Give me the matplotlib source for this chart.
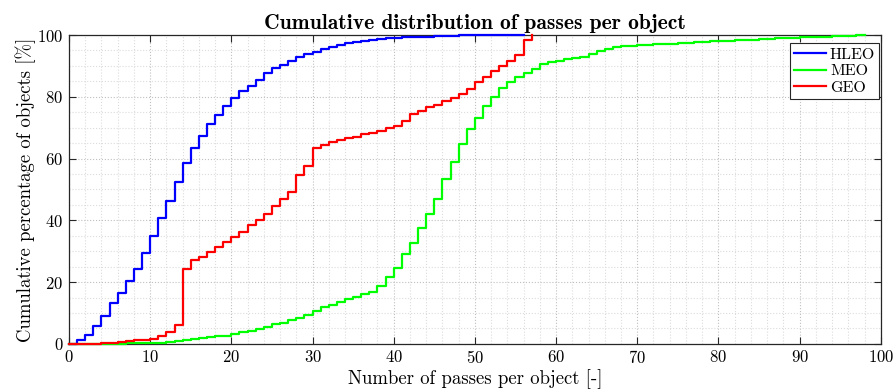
import numpy as np
import matplotlib
matplotlib.use("Agg")
import matplotlib.pyplot as plt
from matplotlib.ticker import MultipleLocator

plt.rcParams['font.family'] = ['cmr10', 'DejaVu Serif']
plt.rcParams['axes.unicode_minus'] = False
plt.rcParams['axes.formatter.use_mathtext'] = True

# Number of passes per object (integer bins) and cumulative percentage
hleo_x = list(range(0, 57))
hleo_y = [0, 1.1, 2.8, 5.7, 9.1, 13.2, 16.6, 20.3, 24.4, 29.3,
          34.8, 40.6, 46.4, 52.5, 58.5, 63.5, 67.4, 71.1, 74.1, 77.0,
          79.7, 81.9, 83.6, 85.4, 87.6, 89.2, 90.4, 91.7, 93.0, 93.9,
          94.5, 95.4, 96.0, 96.7, 97.3, 97.7, 98.1, 98.4, 98.7, 98.9,
          99.1, 99.2, 99.3, 99.4, 99.5, 99.6, 99.7, 99.8, 99.9, 99.9,
          99.9, 99.9, 99.9, 99.9, 99.9, 99.9, 100.0]

meo_x = list(range(0, 99))
meo_y = [0, 0, 0, 0, 0, 0.1, 0.1, 0.2, 0.2, 0.3,
         0.3, 0.4, 0.5, 1.0, 1.3, 1.6, 1.8, 2.1, 2.4, 2.7,
         3.2, 4.0, 4.3, 4.9, 5.6, 6.3, 6.8, 7.8, 8.5, 9.4,
         10.8, 11.8, 12.5, 13.7, 14.5, 15.3, 16.2, 16.9, 18.9, 21.5,
         24.7, 29.2, 32.6, 37.4, 42.1, 47.0, 53.3, 58.8, 64.6, 69.5,
         73.2, 77.0, 80.0, 83.0, 84.9, 86.5, 87.8, 89.0, 90.6, 91.2,
         91.6, 92.1, 92.6, 92.8, 93.7, 94.8, 95.6, 96.0, 96.3, 96.6,
         96.8, 96.9, 97.0, 97.1, 97.2, 97.4, 97.5, 97.6, 97.8, 97.9,
         98.1, 98.2, 98.3, 98.4, 98.5, 98.6, 98.7, 98.9, 99.0, 99.1,
         99.2, 99.3, 99.4, 99.5, 99.6, 99.7, 99.8, 99.9, 100.0]

geo_x = list(range(0, 58))
geo_y = [0, 0, 0, 0.1, 0.2, 0.3, 0.5, 0.8, 1.1, 1.3,
         1.6, 2.4, 3.8, 6.1, 24.2, 27.2, 28.0, 29.6, 31.3, 33.1,
         34.7, 36.3, 38.5, 40.1, 42.0, 44.7, 46.9, 49.3, 54.6, 57.6,
         63.5, 64.4, 65.2, 66.0, 66.5, 66.9, 67.9, 68.4, 69.0, 70.0,
         70.7, 72.3, 74.3, 75.5, 76.8, 77.4, 78.6, 79.5, 80.8, 82.5,
         84.7, 86.5, 88.5, 90.0, 91.7, 93.5, 98.4, 100.0]

fig = plt.figure(figsize=(8.96, 3.89), dpi=100)
ax = fig.add_axes([0.077, 0.116, 0.906, 0.794])

ax.step(hleo_x, hleo_y, where='post', color=(0, 0, 1), lw=1.6, label='HLEO',
        zorder=3, clip_on=False)
ax.step(meo_x, meo_y, where='post', color=(0, 1, 0), lw=1.6, label='MEO',
        zorder=3, clip_on=False)
ax.step(geo_x, geo_y, where='post', color=(1, 0, 0), lw=1.6, label='GEO',
        zorder=3, clip_on=False)

ax.set_xlim(0, 100)
ax.set_ylim(0, 100)
ax.xaxis.set_major_locator(MultipleLocator(10))
ax.yaxis.set_major_locator(MultipleLocator(20))
ax.xaxis.set_minor_locator(MultipleLocator(2))
ax.yaxis.set_minor_locator(MultipleLocator(5))

ax.grid(which='major', linestyle=':', color='#c0c0c0', lw=0.8)
ax.grid(which='minor', linestyle=':', color='#dcdcdc', lw=0.8)
ax.set_axisbelow(True)

ax.tick_params(which='major', direction='in', top=True, right=True,
               length=5, width=0.8, color='#262626', labelsize=12, pad=4)
ax.tick_params(which='minor', length=0)
for s in ax.spines.values():
    s.set_color('#262626')
    s.set_linewidth(0.9)

ax.set_title('Cumulative distribution of passes per object',
             family=['cmb10', 'DejaVu Serif'], fontsize=15.5, pad=4)
ax.set_xlabel('Number of passes per object [-]', fontsize=13.5, labelpad=2)
ax.set_ylabel('Cumulative percentage of objects [%]', fontsize=13.5, labelpad=1)

leg = ax.legend(loc='upper right', bbox_to_anchor=(1.0, 0.978), fontsize=11.5,
                fancybox=False, edgecolor='#262626', framealpha=1,
                handlelength=2.0, handletextpad=0.25, borderpad=0.25,
                labelspacing=0.15, borderaxespad=0.1)
leg.get_frame().set_linewidth(0.8)
leg.set_zorder(5)

fig.savefig('out.png', dpi=100)
